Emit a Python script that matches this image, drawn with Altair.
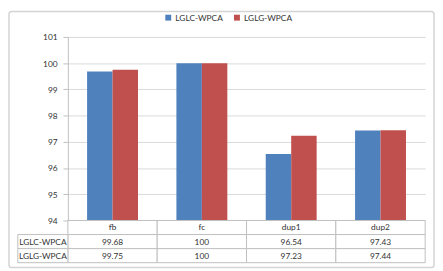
import altair as alt
import pandas as pd

categories = ["fb", "fc", "dup1", "dup2"]
series = ["LGLC-WPCA", "LGLG-WPCA"]
lglc_values = [99.68, 100, 96.54, 97.43]
lglg_values = [99.75, 100, 97.23, 97.44]
y_ticks = [94, 95, 96, 97, 98, 99, 100, 101]
y_min, y_max = 94, 101
colors = ["#4F81BD", "#C0504D"]

FONT = "Lato"
FS = 8.5
TXT = "#333333"
GRID = "#d9d9d9"
LINE = "#bfbfbf"
FRAME = "#d4d4d4"

rows = []
for s, vals in zip(series, [lglc_values, lglg_values]):
    for c, v in zip(categories, vals):
        rows.append({"cat": c, "series": s, "value": v, "label": f"{v:g}"})
df = pd.DataFrame(rows)

row_order = ["hdr"] + series
trows = [{"cat": c, "row": "hdr", "text": c} for c in categories]
for r in rows:
    trows.append({"cat": r["cat"], "row": r["series"], "text": r["label"]})
table_df = pd.DataFrame(trows)
label_df = pd.DataFrame({"col": ["label"] * len(series), "row": series, "text": series})

PLOT_W, PLOT_H, TABLE_H = 364, 187, 43

frame = alt.Chart(pd.DataFrame({"f": [0]})).mark_rect(
    fill="white", fillOpacity=0, stroke=FRAME, strokeWidth=1.5, cornerRadius=3
).encode(x=alt.value(-60), x2=alt.value(373), y=alt.value(-26), y2=alt.value(235))

bar_layer = alt.Chart(df).mark_bar().encode(
    x=alt.X("cat:N", sort=categories, axis=None,
            scale=alt.Scale(paddingInner=0.43, paddingOuter=0.215)),
    xOffset=alt.XOffset("series:N", sort=series,
                        scale=alt.Scale(paddingInner=0, paddingOuter=0)),
    y=alt.Y("value:Q", scale=alt.Scale(domain=[y_min, y_max], nice=False, zero=False),
            axis=alt.Axis(values=y_ticks, title=None, grid=True, gridColor=GRID,
                          domainColor=LINE, tickColor=LINE, tickSize=5, labelPadding=6,
                          labelFont=FONT, labelFontSize=FS, labelColor=TXT)),
    y2=alt.datum(y_min),
    color=alt.Color("series:N", sort=series,
                    scale=alt.Scale(domain=series, range=colors),
                    legend=alt.Legend(title=None, orient="none", direction="horizontal",
                                      legendX=98, legendY=-24, padding=0,
                                      symbolType="square", symbolSize=36,
                                      symbolStrokeWidth=0, labelOffset=3,
                                      labelFont=FONT, labelFontSize=FS, labelColor=TXT,
                                      columnPadding=10)),
)
bars = alt.layer(frame, bar_layer).properties(width=PLOT_W, height=PLOT_H)

base = alt.Chart(table_df).encode(
    x=alt.X("cat:N", sort=categories, axis=None,
            scale=alt.Scale(paddingInner=0, paddingOuter=0)),
    y=alt.Y("row:N", sort=row_order, axis=None,
            scale=alt.Scale(domain=row_order, paddingInner=0, paddingOuter=0)),
)
cell_rects = base.mark_rect(fill="white", stroke=LINE, strokeWidth=1)
cell_text = base.mark_text(font=FONT, fontSize=FS, color=TXT).encode(text="text:N")

lbase = alt.Chart(label_df).encode(
    x=alt.X("col:N", axis=None,
            scale=alt.Scale(range=[-51, 0], paddingInner=0, paddingOuter=0)),
    y=alt.Y("row:N", sort=row_order, axis=None,
            scale=alt.Scale(domain=row_order, paddingInner=0, paddingOuter=0)),
)
label_rects = lbase.mark_rect(fill="white", stroke=LINE, strokeWidth=1)
label_text = lbase.mark_text(font=FONT, fontSize=FS, color=TXT).encode(text="text:N")

table = alt.layer(cell_rects, cell_text, label_rects, label_text).resolve_scale(
    x="independent").properties(width=PLOT_W, height=TABLE_H)

chart = alt.vconcat(bars, table, spacing=0, bounds="flush").resolve_scale(
    x="independent", y="independent").configure_view(stroke=None).properties(
    padding=0, background="white")

chart.save("out.html", embed_options={"renderer": "svg", "actions": False})
